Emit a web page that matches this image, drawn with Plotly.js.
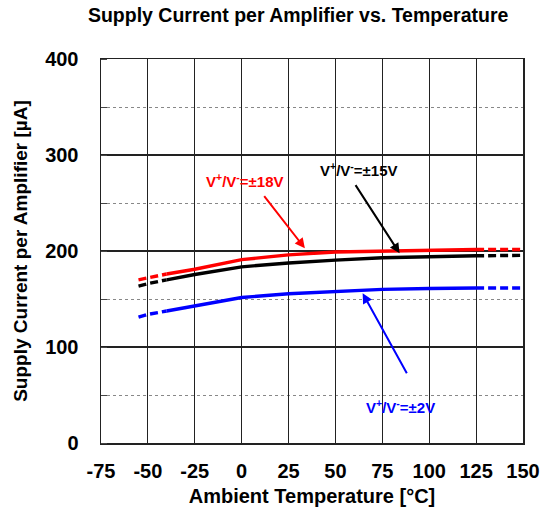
<!DOCTYPE html>
<html>
<head>
<meta charset="utf-8">
<script src="https://cdn.plot.ly/plotly-3.0.1.min.js"></script>
<style>html,body{margin:0;padding:0;background:#fff;}#chart{width:547px;height:516px;}</style>
</head>
<body>
<div id="chart"></div>
<script>
// Data
const temps = [-55, -50, -40, -25, 0, 25, 50, 75, 100, 125, 150];
const i18V = [170, 172, 176, 181, 191, 196, 199, 200, 200.7, 201.5, 201.5];
const i15V = [163.5, 166, 170, 175.5, 183.5, 187.5, 190.5, 193, 194, 195, 195.5];
const i2V  = [131, 134, 137.5, 143, 151.5, 155.5, 158, 160, 161, 161.5, 161.5];
const seriesNames = ['V+/V-=±18V', 'V+/V-=±15V', 'V+/V-=±2V'];
const seriesColors = ['#ff0000', '#000000', '#0000ff'];
const specifiedMin = -40, specifiedMax = 125; // solid range; dashed outside
const xTicks = [-75, -50, -25, 0, 25, 50, 75, 100, 125, 150];
const yTicks = [0, 100, 200, 300, 400];

const allSeries = [i18V, i15V, i2V];
const traces = [];
allSeries.forEach((vals, k) => {
  const lo = temps.filter(t => t <= specifiedMin);
  const mid = temps.filter(t => t >= specifiedMin && t <= specifiedMax);
  const hi = temps.filter(t => t >= specifiedMax);
  const pick = arr => arr.map(t => vals[temps.indexOf(t)]);
  [[lo, 'dash'], [mid, 'solid'], [hi, 'dash']].forEach(([xs, d]) => {
    traces.push({
      x: xs, y: pick(xs), type: 'scatter', mode: 'lines',
      name: seriesNames[k], showlegend: false, hoverinfo: 'skip',
      line: {color: seriesColors[k], width: 3.4, dash: d === 'dash' ? '8px,4px' : 'solid'}
    });
  });
});

const F = 'Liberation Sans, Arial, sans-serif';
const layout = {
  width: 547, height: 516,
  margin: {l: 101, r: 24, t: 59, b: 73},
  paper_bgcolor: '#fff', plot_bgcolor: '#fff',
  showlegend: false,
  title: {text: 'Supply Current per Amplifier vs. Temperature', x: 0.545, xanchor: 'center', y: 0.971, yanchor: 'middle',
          font: {family: F, size: 19.5, color: '#000', weight: 'bold'}},
  xaxis: {
    range: [-75, 150], tickvals: xTicks, ticktext: xTicks.map(String),
    ticks: '', ticklabelstandoff: 9,
    showgrid: true, gridcolor: '#222', gridwidth: 1.2,
    zeroline: false, showline: true, linecolor: '#222', linewidth: 1.5, mirror: true,
    tickfont: {family: F, size: 20, color: '#000', weight: 'bold'},
    title: {text: 'Ambient Temperature [°C]', font: {family: F, size: 20, color: '#000', weight: 'bold'}, standoff: 8}
  },
  yaxis: {
    range: [0, 400], tickvals: yTicks, ticktext: yTicks.map(String),
    ticks: '', ticklabelstandoff: 17,
    showgrid: true, gridcolor: '#222', gridwidth: 1.2,
    zeroline: false, showline: true, linecolor: '#222', linewidth: 1.5, mirror: true,
    minor: {dtick: 50, tick0: 0, showgrid: true, gridcolor: '#888', griddash: 'dot', gridwidth: 1, ticks: 'inside', ticklen: 6, tickcolor: '#444'},
    tickfont: {family: F, size: 20, color: '#000', weight: 'bold'},
    title: {text: 'Supply Current per Amplifier [µA]', font: {family: F, size: 19, color: '#000', weight: 'bold'}, standoff: 12}
  },
  annotations: [
    {x: 1.7, y: 273.3, xref: 'x', yref: 'y', text: 'V<sup>+</sup>/V<sup>-</sup>=±18V', showarrow: false,
     font: {family: F, size: 15, color: '#ff0000', weight: 'bold'}},
    {x: 33.7, y: 202.8, ax: 11.4, ay: 258.8, axref: 'x', ayref: 'y', xref: 'x', yref: 'y', text: '', showarrow: true,
     arrowhead: 2, arrowsize: 1, arrowwidth: 2, arrowcolor: '#ff0000'},
    {x: 62.4, y: 284.8, xref: 'x', yref: 'y', text: 'V<sup>+</sup>/V<sup>-</sup>=±15V', showarrow: false,
     font: {family: F, size: 15, color: '#000', weight: 'bold'}},
    {x: 84.2, y: 197.6, ax: 60.2, ay: 270.2, axref: 'x', ayref: 'y', xref: 'x', yref: 'y', text: '', showarrow: true,
     arrowhead: 2, arrowsize: 1, arrowwidth: 2, arrowcolor: '#000'},
    {x: 84.7, y: 37.9, xref: 'x', yref: 'y', text: 'V<sup>+</sup>/V<sup>-</sup>=±2V', showarrow: false,
     font: {family: F, size: 15, color: '#0000ff', weight: 'bold'}},
    {x: 64.5, y: 156, ax: 88.5, ay: 71, axref: 'x', ayref: 'y', xref: 'x', yref: 'y', text: '', showarrow: true,
     arrowhead: 2, arrowsize: 1, arrowwidth: 2, arrowcolor: '#0000ff'}
  ]
};

Plotly.newPlot('chart', traces, layout, {displayModeBar: false, staticPlot: true});
</script>
</body>
</html>
